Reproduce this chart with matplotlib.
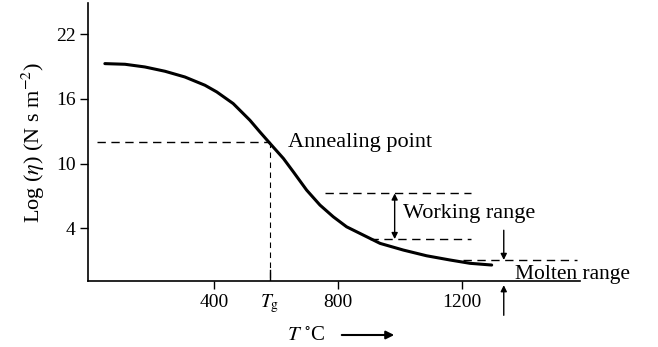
import matplotlib.pyplot as plt
from matplotlib.patches import FancyArrowPatch

plt.rcParams['font.family'] = ['Liberation Serif', 'DejaVu Serif']
plt.rcParams['mathtext.fontset'] = 'stix'

# viscosity curve
temp = [48, 113, 177, 242, 306, 371, 409, 462, 516, 548, 581, 624, 656,
        699, 742, 785, 828, 882, 936, 1011, 1086, 1161, 1226, 1296]
log_eta = [19.28, 19.22, 18.97, 18.57, 18.04, 17.27, 16.65, 15.57, 14.02,
           12.94, 11.86, 10.47, 9.23, 7.53, 6.14, 5.05, 4.12, 3.35, 2.58,
           1.96, 1.43, 1.04, 0.73, 0.57]

y_ticks = [4, 10, 16, 22]
x_ticks = [400, 800, 1200]
t_g = 581
anneal = 12.0
work_hi, work_lo = 7.22, 2.98
molten = 1.04

fig = plt.figure(figsize=(6.58, 3.47), dpi=100)
ax = fig.add_axes([0.1337, 0.19, 0.881 - 0.1337, 0.801])
ax.set_xlim(-6.5, 1580)
ax.set_ylim(-0.92, 24.9)

ax.plot(temp, log_eta, color='black', lw=2.2, solid_capstyle='round',
        solid_joinstyle='round')

dash = dict(color='black', lw=1.0, dashes=(6, 4))
ax.plot([23, t_g], [anneal, anneal], **dash)
ax.plot([t_g, t_g], [anneal, -0.92], color='black', lw=0.8, dashes=(5, 4))
ax.plot([758, 1230], [work_hi, work_hi], **dash)
ax.plot([903, 1230], [work_lo, work_lo], **dash)
ax.plot([1203, 1571], [molten, molten], **dash)

arr = dict(color='black', lw=1.0, mutation_scale=9, shrinkA=0, shrinkB=0)
# working range double arrow
ax.annotate('', xy=(983, work_hi), xytext=(983, work_lo),
            arrowprops=dict(arrowstyle='<|-|>', **arr))
# molten range arrows
ax.annotate('', xy=(1335, molten), xytext=(1335, 3.8),
            arrowprops=dict(arrowstyle='-|>', **arr))
ax.annotate('', xy=(1335, -1.3), xytext=(1335, -4.1), annotation_clip=False,
            arrowprops=dict(arrowstyle='-|>', **arr))

ax.text(639, 11.55, 'Annealing point', fontsize=16, va='baseline', ha='left')
ax.text(1010, 4.93, 'Working range', fontsize=16, va='baseline', ha='left')
ax.text(1370, -0.75, 'Molten range', fontsize=15.5, va='baseline', ha='left',
        clip_on=False)

for s in ['top', 'right']:
    ax.spines[s].set_visible(False)
for s in ['left', 'bottom']:
    ax.spines[s].set_linewidth(1.2)

ax.set_yticks(y_ticks)
ax.set_xticks(x_ticks)
ax.tick_params(direction='out', length=6, width=1.0, labelsize=14, pad=3)
# Tg tick pointing up
ax.plot([t_g, t_g], [-0.92, 0.1], color='black', lw=1.0)
ax.text(t_g, -1.9, r'$T_{\mathrm{g}}$', fontsize=14, ha='center', va='top',
        clip_on=False)

ax.set_ylabel(r'Log ($\eta$) (N s m$^{-2}$)', fontsize=16, labelpad=6)
fig.text(0.465, 1 - 335 / 347, r'$T$ $^{\circ}$C', fontsize=15, ha='center',
         va='center')
fig.add_artist(FancyArrowPatch(
    (339 / 658, 1 - 335 / 347), (397 / 658, 1 - 335 / 347),
    transform=fig.transFigure, arrowstyle='-|>', mutation_scale=12,
    color='black', lw=1.5))

fig.savefig('out.png', dpi=100)
